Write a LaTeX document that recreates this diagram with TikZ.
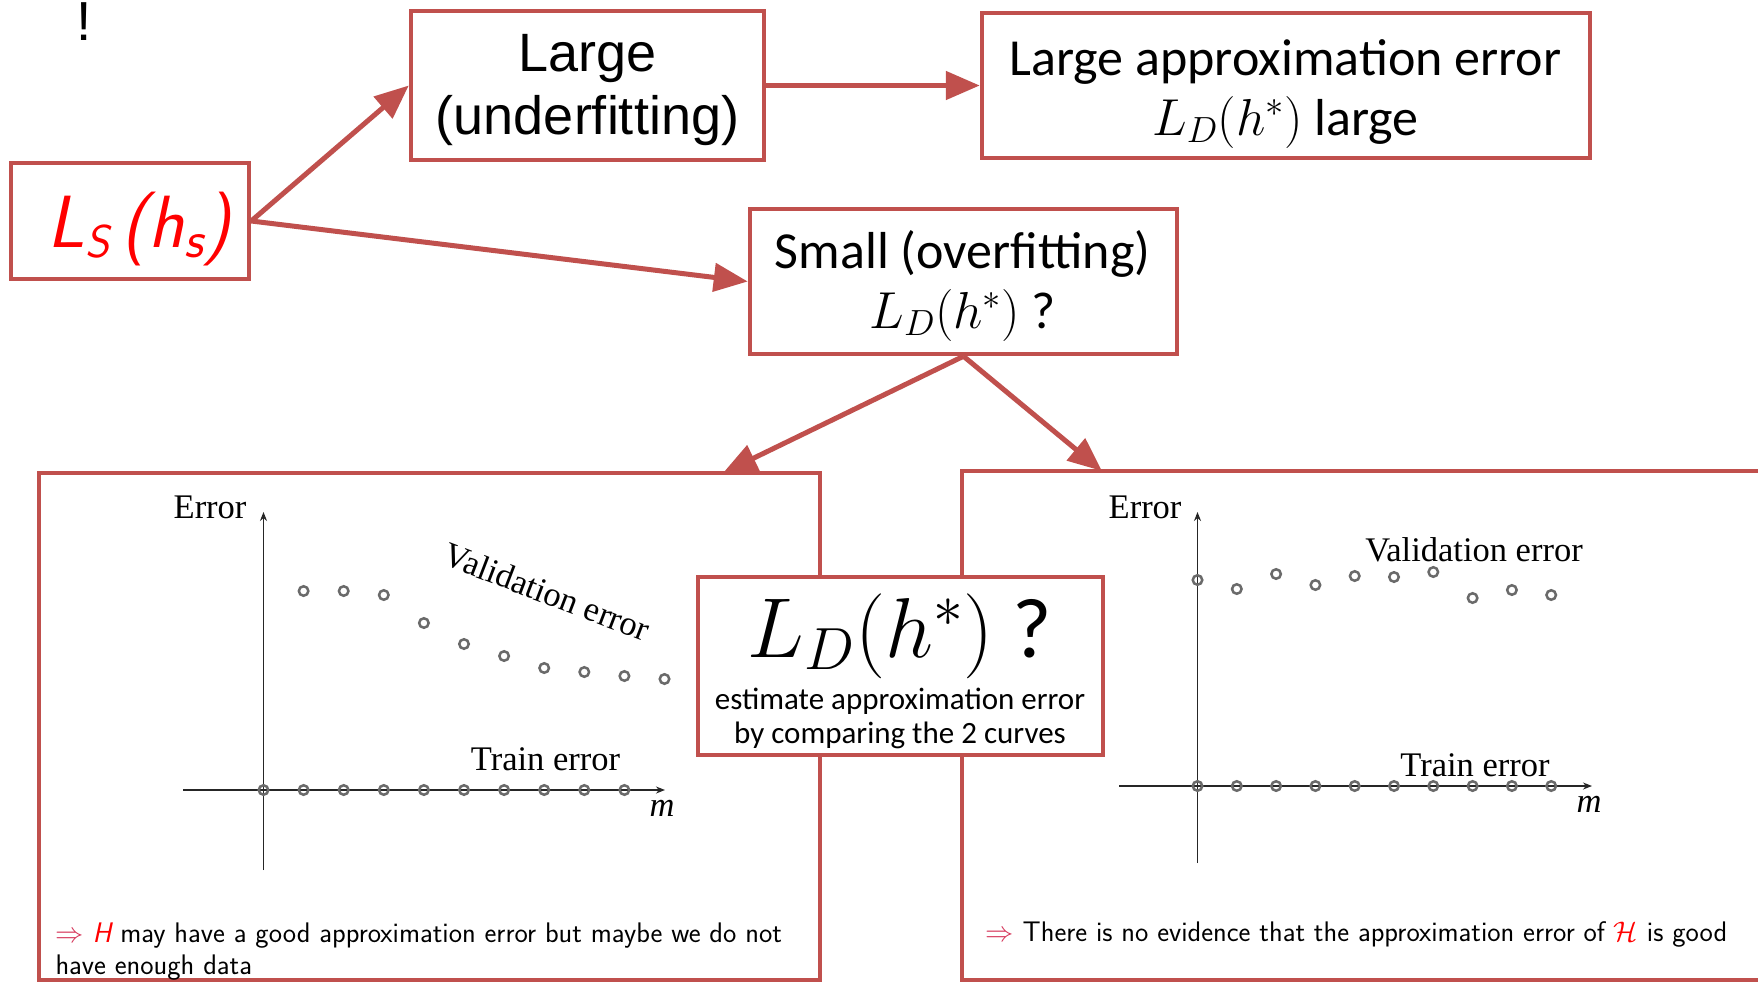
\RequirePackage{fix-cm}
\documentclass[tikz,border=0pt]{standalone}
\usepackage{fontspec}
\usetikzlibrary{arrows.meta}
\newfontfamily\arialf{Liberation Sans}
\newfontfamily\calib{Carlito}
\newfontfamily\tnr{Liberation Serif}
\definecolor{boxred}{HTML}{C0504D}
\definecolor{dotgray}{HTML}{6A6A6A}
\definecolor{implred}{HTML}{D6365A}
\begin{document}
\begin{tikzpicture}[x=1pt,y=-1pt,
  box/.style={draw=boxred,line width=4.5pt,fill=white,inner sep=0pt},
  arr/.style={draw=boxred,line width=5pt,-{Triangle[length=34pt,width=28pt]}},
  dot/.style={circle,draw=dotgray,line width=2.5pt,inner sep=0pt,minimum size=9.5pt},
  axis/.style={draw=black!85,line width=1.8pt,-{Stealth[length=9pt,width=7pt]}},
  gtxt/.style={font=\tnr\fontsize{34.5}{34.5}\selectfont},
  artxt/.style={font=\arialf\fontsize{54}{54}\selectfont},
  catxt/.style={font=\calib\fontsize{52}{52}\selectfont},
  smtxt/.style={font=\calib\fontsize{31}{31}\selectfont},
  bttxt/.style={font=\sffamily\fontsize{28.3}{32}\selectfont,align=left},
]
\clip (0,0) rectangle (1758,983);
\fill[white] (0,0) rectangle (1758,983);

% exclamation mark
\node[anchor=base,font=\arialf\fontsize{55}{55}\selectfont] (excl) at (84,40) {!};

% top boxes
\node[box,minimum width=238pt,minimum height=116pt] (ls) at (130,221) {};
\node[anchor=base,text=red,font=\sffamily\itshape\fontsize{74}{74}\selectfont] (lstxt) at (139,247)
  {L\raisebox{-10pt}{\fontsize{46}{46}\selectfont S}\,(h\raisebox{-10pt}{\fontsize{52}{52}\selectfont s})};

\node[box,minimum width=353pt,minimum height=149pt] (large) at (587.5,85.5) {};
\node[artxt,anchor=base] (large1) at (587.5,71) {Large};
\node[artxt,anchor=base] (large2) at (587.5,134) {(underfitting)};

\node[box,minimum width=608pt,minimum height=145pt] (la) at (1286,85.5) {};
\node[catxt,anchor=base] (la1) at (1285.5,75) {Large approximation error};
\node[catxt,anchor=base] (la2) at (1285.5,135) {$L_D(h^*)$ large};

\node[box,minimum width=427pt,minimum height=145pt] (small) at (963.5,281.5) {};
\node[catxt,anchor=base] (small1) at (962.6,268) {Small (overfitting)};
\node[catxt,anchor=base] (small2) at (962.6,328) {$L_D(h^*)$ ?};

% panels
\node[box,minimum width=781pt,minimum height=507pt] (lp) at (429.5,726.5) {};
\node[box,minimum width=813pt,minimum height=509pt] (rp) at (1368.5,725.5) {};

% arrows
\coordinate (lpt) at (723,473);
\coordinate (rpt) at (1102,471);
\draw[arr] (ls.east) -- (large.west);
\draw[arr] (ls.east) -- (small.west);
\draw[arr] (large.east) -- (la.west);
\draw[arr] (small.south) -- (lpt);
\draw[arr] (small.south) -- (rpt);

% left graph
\draw[axis] (263.5,870) -- (263.5,512);
\draw[axis] (183,790) -- (665,790);
\node[gtxt,anchor=base east] (lerr) at (250,518) {Error};
\node[gtxt,anchor=base] (ltrain) at (545.5,770) {Train error};
\node[gtxt,rotate=-21] (lval) at (547,592) {Validation error};
\node[gtxt,anchor=base] (lm) at (662,816) {\itshape m};
\foreach \i in {0,...,9} \node[dot] (lt\i) at ({263.5+40.1*\i},790) {};
\foreach \yy [count=\i from 0] in {591,591,595,623,644,656,668,672,676,679}
  \node[dot] (lv\i) at ({303.6+40.1*\i},\yy) {};
\node[bttxt,anchor=base west] (lbot) at (52,974)
  {{\color{implred}$\Rightarrow$} {\color{red}\itshape H} may have a good approximation error but maybe we do not\\have enough data};

% right graph
\draw[axis] (1197.5,863) -- (1197.5,512);
\draw[axis] (1119,786) -- (1592,786);
\node[gtxt,anchor=base east] (rerr) at (1185,518) {Error};
\node[gtxt,anchor=base] (rtrain) at (1475,776) {Train error};
\node[gtxt,anchor=base] (rval) at (1474,561) {Validation error};
\node[gtxt,anchor=base] (rm) at (1589,812) {\itshape m};
\foreach \i in {0,...,9} \node[dot] (rt\i) at ({1197.5+39.3*\i},786) {};
\foreach \yy [count=\i from 0] in {580,589,574,585,576,577,572,598,590,595}
  \node[dot] (rv\i) at ({1197.5+39.3*\i},\yy) {};
\node[bttxt,anchor=base west] (rbot) at (982,941)
  {{\color{implred}$\Rightarrow$} There is no evidence that the approximation error of {\color{red}$\mathcal{H}$} is good};

% middle box
\node[box,minimum width=405pt,minimum height=178pt] (mid) at (900.5,666) {};
\node[anchor=base,font=\calib\fontsize{85}{85}\selectfont] (mid1) at (900,657) {$L_D(h^*)$ ?};
\node[smtxt,anchor=base] (mid2) at (900,709) {estimate approximation error};
\node[smtxt,anchor=base] (mid3) at (900,743) {by comparing the 2 curves};
\end{tikzpicture}
\end{document}
